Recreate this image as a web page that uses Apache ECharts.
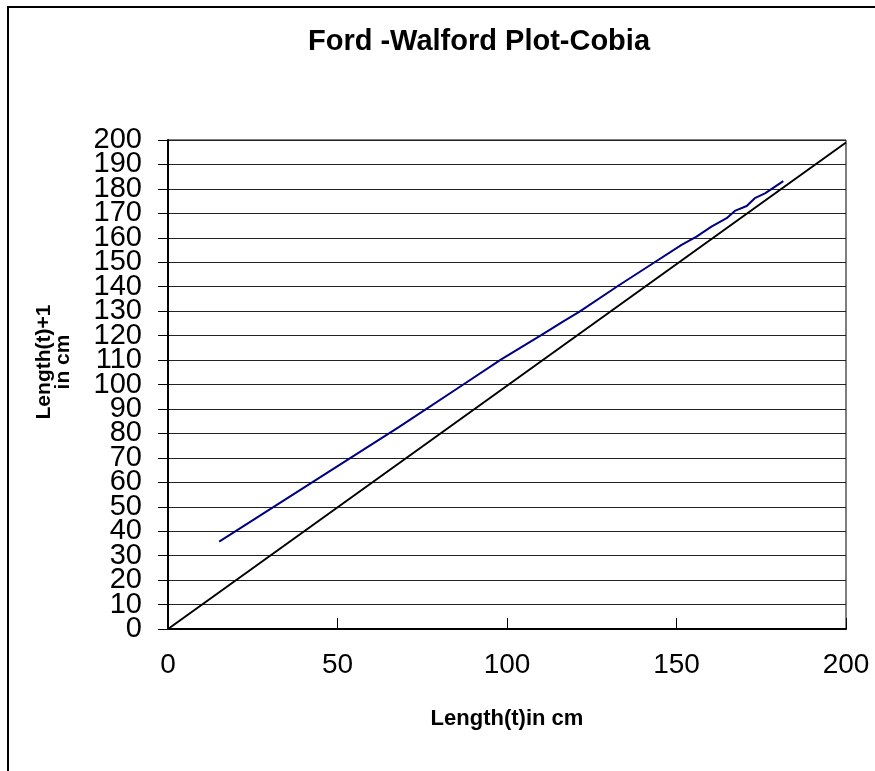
<!DOCTYPE html>
<html>
<head>
<meta charset="utf-8">
<script src="https://cdn.jsdelivr.net/npm/echarts@6/dist/echarts.min.js"></script>
<style>
  html, body { margin: 0; padding: 0; background: #fff; }
  #chart { width: 875px; height: 771px; }
</style>
</head>
<body>
<div id="chart"></div>
<script>
// Ford-Walford plot for cobia: length at age t against length at age t+1
const lengthT = [15.1, 68.2, 86.9, 98.3, 110.1, 116.5, 121.4, 132.7, 143.1, 151.5, 155.9, 160.3, 164.8, 167.2, 170.7, 173.1, 176.1, 181.5];
const lengthT1 = [35.7, 82.7, 99.8, 110.3, 120.2, 125.7, 129.8, 140.3, 149.6, 157.1, 160.5, 164.6, 168.0, 171.0, 173.0, 176.2, 178.2, 183.2];
// 45-degree reference line end points
const refX = [0, 200];
const refY = [0, 199];

const xTicks = [0, 50, 100, 150, 200];
const yMin = 0, yMax = 200, yStep = 10;

const fontFamily = '"Liberation Sans", Arial, sans-serif';
const yLabelFont = 29;
const yLabelMargin = 26;

// plot box
const G = { left: 168, right: 29, top: 140, bottom: 142 };
// the y tick labels are tall enough to touch one another, so even and odd
// labels live on two label-only axes; the second one is shifted by one step
const plotH = 771 - G.top - G.bottom;
const stepPx = plotH / ((yMax - yMin) / yStep);

const chart = echarts.init(document.getElementById('chart'), null, { renderer: 'canvas' });

const labelAxisBase = {
  type: 'value',
  position: 'left',
  axisLine: { show: false },
  axisTick: { show: false },
  splitLine: { show: false },
  axisLabel: { margin: yLabelMargin, fontFamily, fontSize: yLabelFont, color: '#000' }
};

chart.setOption({
  backgroundColor: '#fff',
  animation: false,
  title: {
    text: 'Ford -Walford Plot-Cobia',
    left: 474,
    textAlign: 'center',
    top: 22,
    textStyle: { fontFamily, fontSize: 29, fontWeight: 'bold', color: '#000' }
  },
  grid: [
    { left: G.left, right: G.right, top: G.top, bottom: G.bottom,
      show: true, borderColor: '#000', borderWidth: 1, backgroundColor: '#fff' },
    { left: G.left, right: G.right, top: G.top - stepPx, bottom: G.bottom - stepPx, show: false }
  ],
  xAxis: [
    {
      type: 'value', gridIndex: 0,
      min: xTicks[0], max: xTicks[xTicks.length - 1], interval: 50,
      name: 'Length(t)in cm',
      nameLocation: 'middle',
      nameGap: 79,
      nameTextStyle: { fontFamily, fontSize: 22, fontWeight: 'bold', color: '#000' },
      axisLine: { show: true, onZero: false, lineStyle: { color: '#000', width: 2 } },
      axisTick: { show: true, inside: true, length: 11, lineStyle: { color: '#000', width: 1 } },
      axisLabel: { margin: 22, fontFamily, fontSize: 28, color: '#000', showMinLabel: true, showMaxLabel: true },
      splitLine: { show: false }
    },
    { type: 'value', gridIndex: 1, show: false, min: 0, max: 1 }
  ],
  yAxis: [
    {
      type: 'value', gridIndex: 0,
      min: yMin, max: yMax, interval: yStep,
      axisLine: { show: true, onZero: false, lineStyle: { color: '#000', width: 2 } },
      axisTick: { show: true, inside: false, length: 10, lineStyle: { color: '#000', width: 1 } },
      axisLabel: { show: false },
      splitLine: { show: true, lineStyle: { color: '#222', width: 1 } }
    },
    // labels 0, 20, ..., 200
    Object.assign({}, labelAxisBase, {
      gridIndex: 0, min: yMin, max: yMax, interval: yStep * 2,
      axisLabel: Object.assign({}, labelAxisBase.axisLabel, { showMinLabel: true, showMaxLabel: true })
    }),
    // labels 10, 30, ..., 190
    Object.assign({}, labelAxisBase, {
      gridIndex: 1, min: yMin - yStep, max: yMax + yStep, interval: yStep * 2,
      axisLabel: Object.assign({}, labelAxisBase.axisLabel, { showMinLabel: false, showMaxLabel: false })
    })
  ],
  graphic: [
    {
      type: 'rect',
      shape: { x: 8, y: 7, width: 900, height: 800 },
      style: { fill: 'none', stroke: '#000', lineWidth: 2 },
      silent: true, z: 100
    },
    {
      type: 'text',
      x: 44, y: 362, rotation: Math.PI / 2,
      style: {
        text: 'Length(t)+1', fontFamily, fontSize: 21, fontWeight: 'bold', fill: '#000',
        align: 'center', verticalAlign: 'middle'
      }
    },
    {
      type: 'text',
      x: 63, y: 362, rotation: Math.PI / 2,
      style: {
        text: 'in cm', fontFamily, fontSize: 21, fontWeight: 'bold', fill: '#000',
        align: 'center', verticalAlign: 'middle'
      }
    }
  ],
  series: [
    {
      name: '1:1 line',
      type: 'line',
      xAxisIndex: 0, yAxisIndex: 0,
      data: refX.map((x, i) => [x, refY[i]]),
      showSymbol: false,
      lineStyle: { color: '#000', width: 2 },
      z: 3
    },
    {
      name: 'Length(t)+1',
      type: 'line',
      xAxisIndex: 0, yAxisIndex: 0,
      data: lengthT.map((x, i) => [x, lengthT1[i]]),
      showSymbol: false,
      lineStyle: { color: '#000080', width: 2 },
      z: 4
    }
  ]
});
</script>
</body>
</html>
